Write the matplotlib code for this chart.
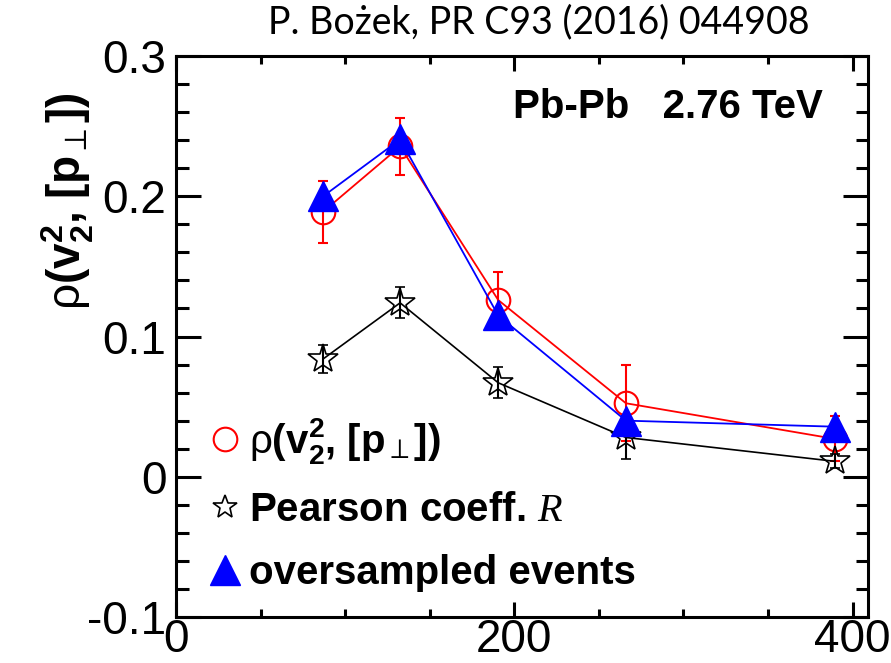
import matplotlib
matplotlib.use("Agg")
import matplotlib.pyplot as plt
from matplotlib.lines import Line2D
from matplotlib.ticker import MultipleLocator

# centrality bins, given as mean number of participants
npart = [87, 132.5, 190.5, 266, 389.5]

# rho(v2^2, [pT]) with statistical errors
rho_val = [0.189, 0.2355, 0.126, 0.0524, 0.027]
rho_err = [0.022, 0.020, 0.020, 0.027, 0.016]

# Pearson coefficient R
pearson_val = [0.084, 0.124, 0.067, 0.028, 0.011]
pearson_err = [0.010, 0.011, 0.011, 0.015, 0.005]

# oversampled events
over_val = [0.200, 0.2405, 0.115, 0.040, 0.0357]

plt.rcParams["font.family"] = ["Liberation Sans", "DejaVu Sans"]
plt.rcParams["mathtext.fontset"] = "custom"
plt.rcParams["mathtext.rm"] = "Liberation Sans"
plt.rcParams["mathtext.bf"] = "Liberation Sans:bold"
plt.rcParams["mathtext.sf"] = "DejaVu Sans:bold"
plt.rcParams["mathtext.it"] = "Liberation Serif:italic"

RHO_LABEL = r"$\mathrm{\rho}\mathbf{(v^2_2,\,[p}_{\mathsf{\perp}}\mathbf{])}$"

fig = plt.figure(figsize=(8.91, 6.63), dpi=100)
ax = fig.add_axes([0.1975, 0.0694, 0.7765, 0.8461])

ax.errorbar(npart, rho_val, yerr=rho_err, color="red", lw=1.3,
            marker="o", ms=17, mfc="none", mec="red", mew=1.5,
            elinewidth=1.5, capsize=3.5, capthick=1.8, zorder=3)
ax.errorbar(npart, pearson_val, yerr=pearson_err, color="black", lw=1.2,
            marker="*", ms=22, mfc="none", mec="black", mew=1.2,
            elinewidth=1.5, capsize=3.5, capthick=1.8, zorder=4)
ax.plot(npart, over_val, color="blue", lw=1.3, marker="^", ms=22,
        mfc="blue", mec="blue", zorder=5)

ax.set_xlim(0, 409)
ax.set_ylim(-0.1, 0.3)
ax.xaxis.set_major_locator(MultipleLocator(200))
ax.xaxis.set_minor_locator(MultipleLocator(50))
ax.yaxis.set_major_locator(MultipleLocator(0.1))
ax.yaxis.set_minor_locator(MultipleLocator(0.02))
ax.yaxis.set_major_formatter(plt.FuncFormatter(lambda v, p: f"{v:g}" if abs(v) > 1e-9 else "0"))

for s in ax.spines.values():
    s.set_linewidth(2.2)
ax.tick_params(which="both", direction="in", top=True, right=True, width=2.2,
               labelsize=33)
ax.tick_params(axis="y", which="major", length=18, pad=7)
ax.tick_params(axis="y", which="minor", length=9)
ax.tick_params(axis="x", which="major", length=11, pad=1)
ax.tick_params(axis="x", which="minor", length=6)

ax.set_ylabel(RHO_LABEL, fontsize=33, loc="top")
ax.yaxis.set_label_coords(-0.115, 0.935)

ax.text(0.935, 0.909, "Pb-Pb   2.76 TeV", transform=ax.transAxes,
        ha="right", va="center", fontsize=29, fontweight="bold")

handles = [
    Line2D([], [], ls="none", marker="o", ms=17, mfc="none", mec="red", mew=1.5),
    Line2D([], [], ls="none", marker="*", ms=18, mfc="none", mec="black", mew=1.2),
    Line2D([], [], ls="none", marker="^", ms=22, mfc="blue", mec="blue"),
]
labels = [
    RHO_LABEL,
    r"Pearson coeff. $\mathit{R}$",
    "oversampled events",
]
ax.legend(handles, labels, loc="lower left", bbox_to_anchor=(0.048, 0.045),
          prop=dict(family="Liberation Sans", weight="bold", size=29),
          frameon=False, borderpad=0, borderaxespad=0, handlelength=0.8,
          handletextpad=0.2, labelspacing=0.62)

fig.text(0.605, 0.967, "P. Bożek, PR C93 (2016) 044908", ha="center",
         va="center", family="Lato", fontsize=27)

fig.savefig("out.png", dpi=100)
